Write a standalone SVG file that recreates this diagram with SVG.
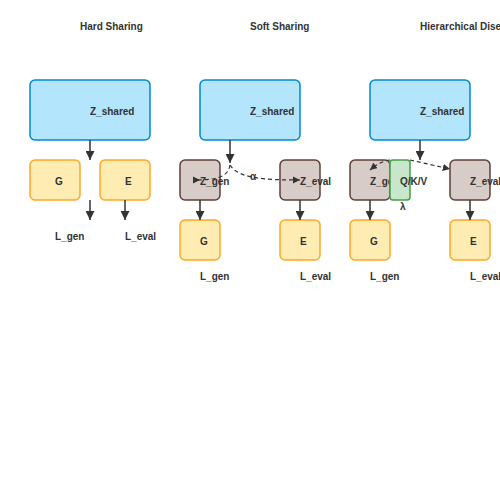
<svg xmlns="http://www.w3.org/2000/svg" width="500" height="500" viewBox="0 0 500 500">
<defs>
<marker id="ah" viewBox="0 0 10 10" refX="10" refY="5" markerWidth="6" markerHeight="6" orient="auto">
<path d="M0,0 L10,5 L0,10 z" fill="#333"/>
</marker>
<style>
text{font-family:"Liberation Sans",Arial,sans-serif;font-size:10px;font-weight:bold;fill:#333}
.z{fill:#b3e5fc;stroke:#0288d1;stroke-width:1.5}
.y{fill:#ffecb3;stroke:#ffa726;stroke-width:1.5}
.b{fill:#d7ccc8;stroke:#5d4037;stroke-width:1.5}
.g{fill:#c8e6c9;stroke:#43a047;stroke-width:1.5}
.a{fill:none;stroke:#333;stroke-width:1.5;marker-end:url(#ah)}
.d{fill:none;stroke:#333;stroke-width:1.2;stroke-dasharray:4,3;marker-end:url(#ah)}
</style>
</defs>
<rect width="500" height="500" fill="#fff"/>
<g id="titles">
<text x="80" y="30">Hard Sharing</text>
<text x="250" y="30">Soft Sharing</text>
<text x="420" y="30">Hierarchical Disentanglement</text>
</g>
<g id="hard">
<g id="h_zshared"><rect class="z" x="30" y="80" width="120" height="60" rx="5"/><text x="90" y="115">Z_shared</text></g>
<g id="h_G"><rect class="y" x="30" y="160" width="50" height="40" rx="5"/><text x="55" y="185">G</text></g>
<g id="h_E"><rect class="y" x="100" y="160" width="50" height="40" rx="5"/><text x="125" y="185">E</text></g>
<g id="h_lgen"><text x="55" y="240">L_gen</text></g>
<g id="h_leval"><text x="125" y="240">L_eval</text></g>
</g>
<g id="soft">
<g id="s_zshared"><rect class="z" x="200" y="80" width="100" height="60" rx="5"/><text x="250" y="115">Z_shared</text></g>
<g id="s_zgen"><rect class="b" x="180" y="160" width="40" height="40" rx="5"/></g>
<g id="s_zeval"><rect class="b" x="280" y="160" width="40" height="40" rx="5"/></g>
<g id="s_G"><rect class="y" x="180" y="220" width="40" height="40" rx="5"/><text x="200" y="245">G</text></g>
<g id="s_E"><rect class="y" x="280" y="220" width="40" height="40" rx="5"/><text x="300" y="245">E</text></g>
<g id="s_lgen"><text x="200" y="280">L_gen</text></g>
<g id="s_leval"><text x="300" y="280">L_eval</text></g>
</g>
<g id="hier">
<g id="r_zshared"><rect class="z" x="370" y="80" width="100" height="60" rx="5"/><text x="420" y="115">Z_shared</text></g>
<g id="r_zgen"><rect class="b" x="350" y="160" width="40" height="40" rx="5"/><text x="370" y="185">Z_gen</text></g>
<g id="r_qkv"><rect class="g" x="390" y="160" width="20" height="40" rx="3"/><text x="400" y="185">Q/K/V</text><text x="400" y="210">λ</text></g>
<g id="r_zeval"><rect class="b" x="450" y="160" width="40" height="40" rx="5"/><text x="470" y="185">Z_eval</text></g>
<g id="r_G"><rect class="y" x="350" y="220" width="40" height="40" rx="5"/><text x="370" y="245">G</text></g>
<g id="r_E"><rect class="y" x="450" y="220" width="40" height="40" rx="5"/><text x="470" y="245">E</text></g>
<g id="r_lgen"><text x="370" y="280">L_gen</text></g>
<g id="r_leval"><text x="470" y="280">L_eval</text></g>
</g>
<g id="connectors">
<path class="a" d="M90,140 V160"/>
<path class="a" d="M90,200 V220"/>
<path class="a" d="M125,200 V220"/>
<path class="a" d="M230,140 V163"/>
<path class="d" d="M230,165 C228,178 215,180 193,180 L200,180"/>
<path class="d" d="M230,165 C238,178 262,180 300,180"/>
<path class="a" d="M200,200 V220"/>
<path class="a" d="M300,200 V220"/>
<path class="a" d="M420,140 V160"/>
<path class="d" d="M390,160 C382,161 376,165 370,170"/>
<path class="d" d="M410,160 L450,169"/>
<path class="a" d="M370,200 V220"/>
<path class="a" d="M470,200 V220"/>
</g>
<g id="soft_labels">
<text x="200" y="185">Z_gen</text>
<text x="300" y="185">Z_eval</text>
<text x="250" y="180">α</text>
</g>
</svg>
